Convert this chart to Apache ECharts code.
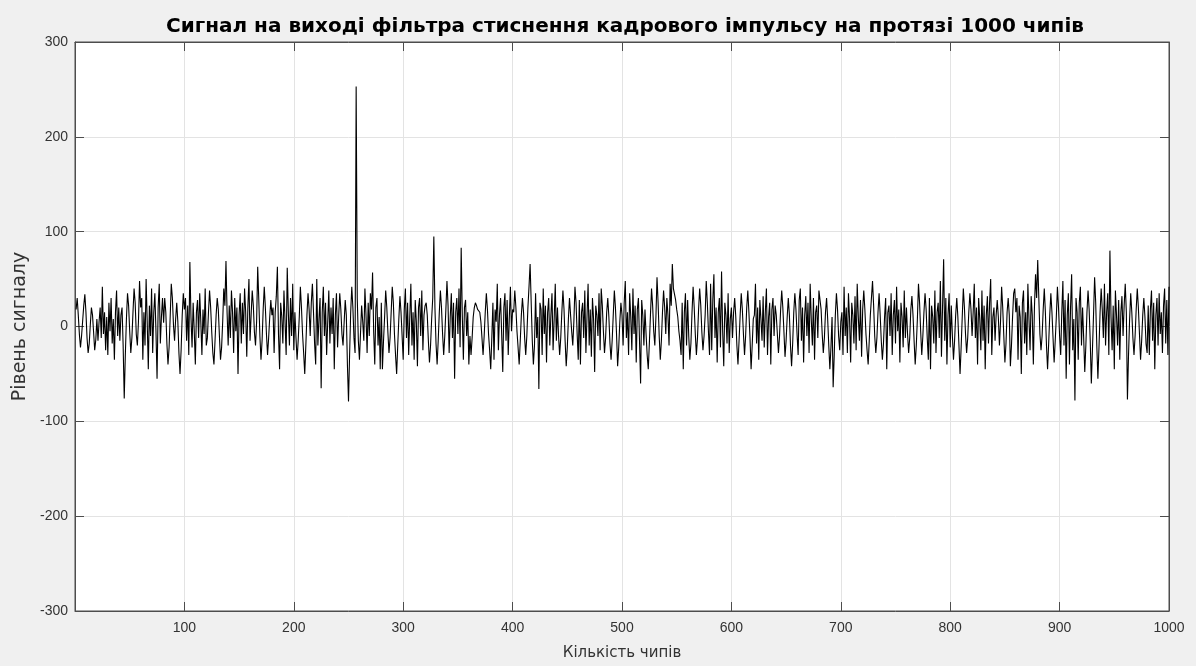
<!DOCTYPE html>
<html>
<head>
<meta charset="utf-8">
<script src="https://cdn.jsdelivr.net/npm/echarts@6/dist/echarts.min.js"></script>
<style>html,body{margin:0;padding:0;background:#f0f0f0}#c{width:1196px;height:666px}</style>
</head>
<body>
<div id="c"></div>
<script>
const titleText = 'Сигнал на виході фільтра стиснення кадрового імпульсу на протязі 1000 чипів';
const xName = 'Кількість чипів';
const yName = 'Рівень сигналу';
const xTicks = [0, 100, 200, 300, 400, 500, 600, 700, 800, 900, 1000];
const yTicks = [-300, -200, -100, 0, 100, 200, 300];

const signal1 = [
18,30,12,-8,-22,-10,6,22,34,15,-12,-28,-18,2,20,12,-6,-25,-14,8,
-15,5,20,-12,42,-8,15,-25,10,-30,25,-5,30,-18,8,-35,15,38,-10,20,
-15,12,20,-20,-76,-30,8,35,22,-5,-28,-12,15,40,25,-8,-20,5,48,20,
30,-35,15,-20,50,5,-45,22,-10,40,-28,15,35,-5,-55,20,45,-18,10,30,
4,30,15,-18,-40,-22,10,45,30,2,-15,8,25,5,-28,-50,-25,12,35,18,
30,-15,22,-30,68,10,-22,25,-5,-40,15,28,-12,35,5,-30,18,-8,40,-20,
-12,15,38,20,-6,-28,-40,-15,12,30,18,-10,-35,-22,5,40,22,69,15,-20,
22,-12,38,15,-28,30,-5,20,-50,12,35,-18,25,-8,40,15,-32,20,50,-15,
12,38,22,-6,-20,5,63,28,-10,-35,-15,18,42,20,-8,-30,-12,10,28,12,
20,-28,15,32,63,-8,-45,25,10,-18,38,5,-30,62,15,-20,30,-10,45,-25
];
const signal2 = [
15,-12,-35,-15,10,42,20,-8,-28,-50,-20,12,35,18,-10,25,45,15,-18,-40,
50,-20,8,30,-65,15,42,-10,25,-30,5,38,-18,20,-8,30,-45,12,35,-22,
10,35,18,-8,-20,4,28,12,-40,-79,-30,15,42,20,-12,-28,253,30,-15,-35,
-35,22,5,-15,40,12,-28,25,-10,35,18,57,-5,-40,20,30,-20,10,-45,25,
-45,-15,10,38,20,-6,-28,-12,15,42,25,-8,-30,-50,-20,8,32,15,-10,-35,
18,40,-12,25,-30,10,45,-20,15,-35,28,5,-42,20,30,-10,38,-25,12,22,
25,12,-15,-38,-20,8,30,95,20,-18,-40,-15,15,38,20,-8,-30,-10,18,48,
22,-28,10,35,-12,25,-55,15,30,-8,40,-22,83,12,-35,20,28,-10,15,-40,
-10,-30,-12,10,20,25,22,18,20,15,5,-12,-30,-10,15,35,18,-8,-25,-45,
-12,25,-35,18,5,45,-25,12,30,-8,-48,20,35,-15,28,-30,10,42,-5,18
];
const signal3 = [
15,38,20,-5,-22,-40,-15,12,30,15,-12,-30,-10,20,42,66,25,-15,-40,-20,
35,-12,10,-66,25,18,-30,40,-8,22,-38,15,30,-20,12,35,-25,8,45,-15,
20,-10,-30,-12,15,38,18,-15,-42,-22,8,30,12,-5,-20,5,42,25,-8,-35,
28,-40,15,25,-12,38,-28,10,45,-20,18,-32,30,8,-48,22,12,-10,35,-25,
40,22,-5,-28,-12,15,30,10,-18,-35,-15,12,38,20,-8,-42,-22,5,25,12,
-20,25,48,-12,15,-30,35,10,-25,40,-8,22,-38,18,30,-15,-60,28,12,-20,
18,-8,-30,-45,-18,12,40,22,-5,-20,10,52,25,-10,-35,-15,15,38,20,-8,
30,12,-20,45,22,66,40,42,28,18,10,-5,-15,-30,25,-45,15,35,-20,28,
-10,-35,-18,15,42,20,-8,-30,-12,18,40,22,-6,-25,-10,12,48,25,-5,-30,
45,-25,28,55,-12,20,-38,15,30,-22,58,-5,-42,25,12,-18,35,-28,8,20
];
const signal4 = [
-12,15,30,10,-20,-40,-15,12,35,18,-8,-30,-10,20,38,15,-12,-45,-20,8,
12,45,-18,20,-35,28,8,-15,32,-22,15,40,-30,10,25,-40,18,30,-10,22,
12,-8,-28,-10,18,38,20,-5,-32,-15,10,30,12,-20,-42,-18,15,35,18,-8,
-30,28,40,-15,20,-38,12,32,-10,25,-28,45,8,-20,30,-35,15,22,-12,38,
38,18,-8,-28,-12,15,30,8,-20,-45,-22,10,-64,-30,12,35,18,-10,-25,5,
15,-30,42,-10,20,-28,35,8,-38,25,12,-18,32,-25,45,10,-15,28,-32,18,
38,18,-8,-25,-40,-15,12,30,48,22,-10,-28,-12,15,35,12,-15,-35,-18,10,
30,-45,15,22,-10,35,-30,12,28,-18,42,-5,18,-38,25,10,-22,38,-12,20,
-8,-28,-12,18,32,12,-15,-40,-20,8,45,25,-5,-30,-10,15,35,18,-12,-35,
30,-45,22,10,-18,38,-28,15,25,-12,48,-32,20,71,-15,30,-40,12,35,-22
];
const signal5 = [
22,-10,-35,-15,12,30,10,-20,-50,-22,10,40,20,-8,-28,-12,15,35,18,-10,
15,45,-12,20,-40,30,8,-25,38,-15,22,-45,12,32,-18,25,50,-30,10,20,
-15,12,28,10,-20,5,42,20,-10,-38,-18,15,30,12,-42,-20,10,35,40,15,
30,-35,22,10,-50,25,38,-18,15,-30,45,8,-25,32,12,-40,20,55,30,70,
30,-8,-25,-10,18,40,15,-20,-45,-18,12,35,15,-12,-38,-15,10,42,20,-10,
-30,15,48,-20,28,-55,12,35,-40,20,55,-25,8,-78,30,15,-35,25,42,-20,
20,-12,-48,-20,15,38,18,-15,-60,-25,12,52,25,-20,-55,-22,15,40,18,-12,
45,-20,15,35,-30,80,10,-25,22,-45,38,12,-20,28,-35,15,32,-10,22,45,
15,-77,-30,8,35,15,-12,-30,-10,18,40,20,-8,-35,-15,12,30,10,-18,-28,
22,-30,18,38,-15,25,-45,12,30,-20,35,-8,15,-28,22,40,-18,28,-30,42
];

const values = [].concat(signal1, signal2, signal3, signal4, signal5);
const seriesData = values.map((v, i) => [i + 1, v]);

const font = "'Liberation Sans', Arial, Helvetica, sans-serif";
const wideFont = "'DejaVu Sans', Verdana, sans-serif";
const axisCol = '#4d4d4d';
const textCol = '#333333';

const chart = echarts.init(document.getElementById('c'), null, {renderer: 'canvas'});
chart.setOption({
  animation: false,
  backgroundColor: '#f0f0f0',
  title: {
    text: titleText,
    left: 620, textAlign: 'center', top: 12,
    textStyle: {fontFamily: wideFont, fontSize: 20, fontWeight: 'bold', color: '#000'}
  },
  grid: {left: 75, right: 27, top: 42, bottom: 52, show: true, backgroundColor: '#ffffff', borderColor: axisCol, borderWidth: 1},
  xAxis: [{
    type: 'value', min: xTicks[0], max: xTicks[xTicks.length - 1], interval: 100,
    name: xName, nameLocation: 'middle', nameGap: 35,
    nameTextStyle: {fontFamily: wideFont, fontSize: 15, color: textCol},
    axisLine: {show: true, onZero: false, lineStyle: {color: axisCol, width: 1}},
    axisTick: {show: true, inside: true, length: 9, lineStyle: {color: axisCol}},
    axisLabel: {showMinLabel: false, margin: 10, fontFamily: font, fontSize: 14, color: textCol,
      formatter: v => String(v)},
    splitLine: {show: true, lineStyle: {color: '#e3e3e3', width: 1}}
  }, {
    type: 'value', position: 'top', min: xTicks[0], max: xTicks[xTicks.length - 1], interval: 100,
    axisLine: {show: true, onZero: false, lineStyle: {color: axisCol, width: 1}},
    axisTick: {show: true, inside: true, length: 9, lineStyle: {color: axisCol}},
    axisLabel: {show: false}, splitLine: {show: false}
  }],
  yAxis: [{
    type: 'value', min: yTicks[0], max: yTicks[yTicks.length - 1], interval: 100,
    name: yName, nameLocation: 'middle', nameGap: 42, nameRotate: 90,
    nameTextStyle: {fontFamily: wideFont, fontSize: 19, color: textCol},
    axisLine: {show: true, onZero: false, lineStyle: {color: axisCol, width: 1}},
    axisTick: {show: true, inside: true, length: 9, lineStyle: {color: axisCol}},
    axisLabel: {margin: 7, fontFamily: font, fontSize: 14, color: textCol},
    splitLine: {show: true, lineStyle: {color: '#e3e3e3', width: 1}}
  }, {
    type: 'value', position: 'right', min: yTicks[0], max: yTicks[yTicks.length - 1], interval: 100,
    axisLine: {show: true, onZero: false, lineStyle: {color: axisCol, width: 1}},
    axisTick: {show: true, inside: true, length: 9, lineStyle: {color: axisCol}},
    axisLabel: {show: false}, splitLine: {show: false}
  }],
  series: [{
    type: 'line', data: seriesData, showSymbol: false, symbol: 'none',
    sampling: null, xAxisIndex: 0, yAxisIndex: 0,
    lineStyle: {color: '#000000', width: 1.1}
  }]
});
</script>
</body>
</html>
